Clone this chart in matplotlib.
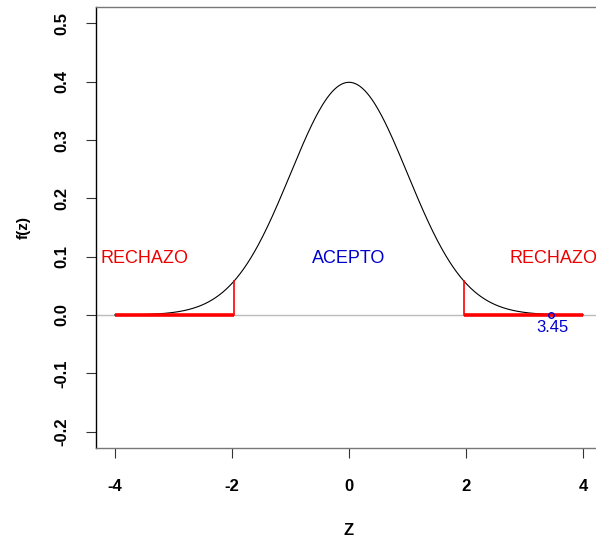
import numpy as np
import matplotlib
matplotlib.use("Agg")
import matplotlib.pyplot as plt

# Data
mu, sigma = 0.0, 1.0
z_crit = [-1.96, 1.96]
z_min, z_max = -4.0, 4.0
z_obs = 3.45
labels = ["RECHAZO", "ACEPTO", "RECHAZO"]
label_x = [-3.5, 0.0, 3.5]
label_y = [0.1, 0.1, 0.1]
label_colors = ["#ee0000", "#0000cc", "#ee0000"]
xticks = [-4, -2, 0, 2, 4]
yticks = [-0.2, -0.1, 0.0, 0.1, 0.2, 0.3, 0.4, 0.5]
ytick_labels = ["-0.2", "-0.1", "0.0", "0.1", "0.2", "0.3", "0.4", "0.5"]

def pdf(x):
    return np.exp(-0.5 * ((x - mu) / sigma) ** 2) / (sigma * np.sqrt(2 * np.pi))

plt.rcParams['font.family'] = ['Liberation Sans', 'DejaVu Sans']

fig = plt.figure(figsize=(5.96, 5.37), dpi=100)
ax = fig.add_axes([96/596, 89/537, 506/596, 441/537])

z = np.linspace(z_min, z_max, 400)
ax.axhline(0, color="#bbbbbb", lw=1.0, zorder=1)
ax.plot(z, pdf(z), color="black", lw=0.8, zorder=2)

# rejection regions
ax.plot([z_min, z_crit[0]], [0, 0], color="#ff0000", lw=2.6, solid_capstyle="butt", zorder=3)
ax.plot([z_crit[1], z_max], [0, 0], color="#ff0000", lw=2.6, solid_capstyle="butt", zorder=3)
for c in z_crit:
    ax.plot([c, c], [0, pdf(c)], color="#ff0000", lw=1.2, zorder=3)

for t, x, y, col in zip(labels, label_x, label_y, label_colors):
    ax.text(x, y - 0.004, t, color=col, fontsize=13, ha="center", va="center")

ax.plot([z_obs], [0], marker="o", ms=4, mfc="none", mec="#0000cc", mew=1, zorder=4)
ax.text(z_obs + 0.03, -0.021, f"{z_obs:.2f}", color="#0000cc", fontsize=12, ha="center", va="center")

ax.set_xlim(-4.32, 4.32)
ax.set_ylim(-0.228, 0.528)
ax.set_xticks(xticks)
ax.set_xticklabels([str(t) for t in xticks], fontsize=12, fontweight="bold")
ax.set_yticks(yticks)
ax.set_yticklabels(ytick_labels, fontsize=12, fontweight="bold", rotation=90, va="center")
ax.tick_params(axis="x", length=7.2, width=0.8, pad=15, color="#333333")
ax.tick_params(axis="y", length=7.2, width=0.8, pad=12, color="#333333")

ax.spines["left"].set_color("black")
ax.spines["left"].set_linewidth(1.0)
for s in ["top", "bottom", "right"]:
    ax.spines[s].set_color("#777777")
    ax.spines[s].set_linewidth(1.0)

ax.set_xlabel("Z", fontsize=12, fontweight="bold", labelpad=21)
ax.set_ylabel("f(z)", fontsize=11, fontweight="bold", labelpad=17)

fig.savefig("out.png", dpi=100)
